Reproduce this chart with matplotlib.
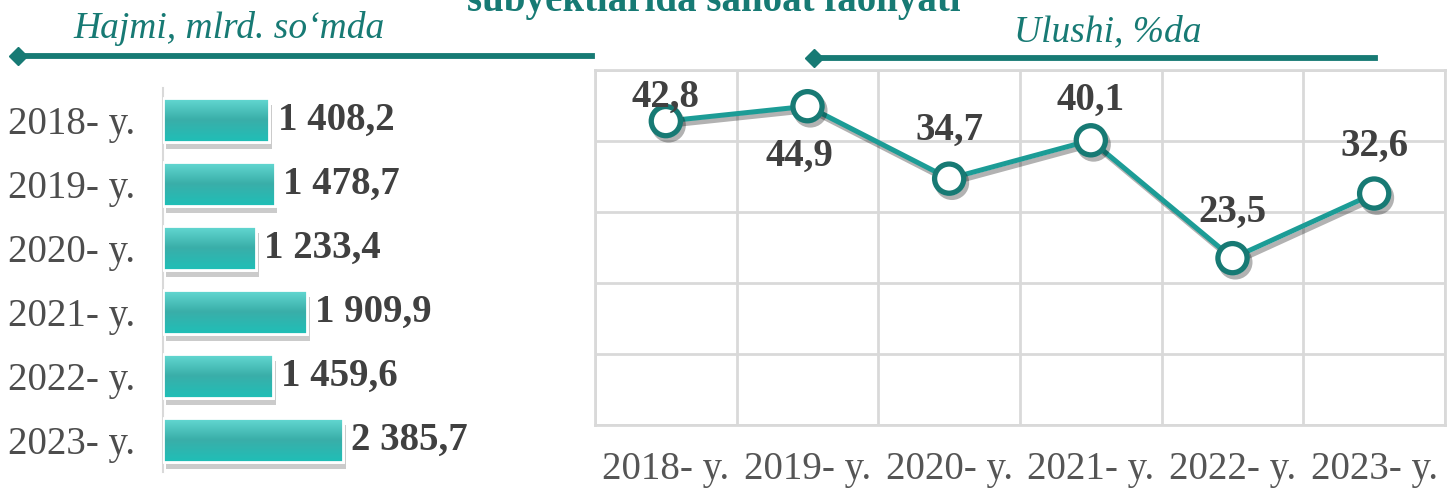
import numpy as np
import matplotlib
matplotlib.use("Agg")
import matplotlib.pyplot as plt
import matplotlib.patheffects as pe
from matplotlib.colors import LinearSegmentedColormap

# data
years = ["2018- y.", "2019- y.", "2020- y.", "2021- y.", "2022- y.", "2023- y."]
volume = [1408.2, 1478.7, 1233.4, 1909.9, 1459.6, 2385.7]
volume_labels = ["1 408,2", "1 478,7", "1 233,4", "1 909,9", "1 459,6", "2 385,7"]
share = [42.8, 44.9, 34.7, 40.1, 23.5, 32.6]
share_labels = ["42,8", "44,9", "34,7", "40,1", "23,5", "32,6"]
# label offsets (points) for the line labels
share_offsets = [(0, 17), (-6, -36), (0, 35), (0, 29), (0, 33), (0, 34)]

TEAL_DARK = "#177a74"
LINE_COLOR = "#1c9c96"
TEXT_DARK = "#404040"
GRID = "#d9d9d9"
SERIF = "Liberation Serif"

plt.rcParams["font.family"] = SERIF

fig = plt.figure(figsize=(14.51, 4.9), dpi=100)

# ---- bar chart (left) ----
axb = fig.add_axes([163 / 1451, 1 - 472 / 490, 300 / 1451, 384 / 490])
ypos = np.arange(len(years))
bars = axb.barh(ypos, volume, height=0.69, color="#33b8b2", edgecolor="white",
                linewidth=2, zorder=2)
# top light cyan -> darker middle -> bright teal bottom
grad = LinearSegmentedColormap.from_list("g", ["#66dbd5", "#3aaea9", "#1fbfb7"])
gimg = np.linspace(0, 1, 100).reshape(-1, 1)
for b in bars:
    b.set_path_effects([pe.SimplePatchShadow(offset=(2, -5), alpha=0.3, shadow_rgbFace="#555555"),
                        pe.Normal()])
    x0, y0 = b.get_x(), b.get_y()
    w, h = b.get_width(), b.get_height()
    # y axis is inverted: y0 is the top edge of the bar
    im = axb.imshow(gimg, cmap=grad, aspect="auto", origin="upper",
                    extent=[x0, x0 + w, y0 + h, y0], zorder=3)
    im.set_clip_path(b)
    axb.add_patch(plt.Rectangle((x0, y0), w, h, fill=False, edgecolor="white",
                                linewidth=2, zorder=4))

for i, (v, lab) in enumerate(zip(volume, volume_labels)):
    axb.text(v + 110, i, lab, va="center", ha="left", fontsize=28, fontweight="bold",
             color=TEXT_DARK)

axb.set_xlim(0, 3975)
axb.set_ylim(len(years) - 0.5, -0.5)
axb.set_yticks(ypos)
axb.set_yticklabels(years, fontsize=28, color="#4d4d4d")
axb.tick_params(axis="y", length=0)
axb.set_xticks([])
for s in ["top", "right", "bottom"]:
    axb.spines[s].set_visible(False)
axb.spines["left"].set_color(GRID)
axb.spines["left"].set_linewidth(1.5)
for t in axb.get_yticklabels():
    t.set_ha("left")
axb.yaxis.set_tick_params(pad=155 * 0.72)

# ---- line chart (right) ----
axl = fig.add_axes([595 / 1451, 1 - 425 / 490, 850 / 1451, 355 / 490])
xpos = np.arange(len(years))
axl.plot(xpos, share, color=LINE_COLOR, lw=3.6, marker="o", markersize=21,
         markerfacecolor="white", markeredgecolor=TEAL_DARK, markeredgewidth=3.8,
         zorder=3,
         path_effects=[pe.SimpleLineShadow(offset=(2, -3), alpha=0.3), pe.Normal()])
for x, y, lab, off in zip(xpos, share, share_labels, share_offsets):
    axl.annotate(lab, (x, y), xytext=off, textcoords="offset points",
                 ha="center", va="center", fontsize=28, fontweight="bold",
                 color=TEXT_DARK, zorder=5)

axl.set_xlim(-0.5, len(years) - 0.5)
axl.set_ylim(0, 50)
axl.set_yticks(np.arange(0, 51, 10))
axl.set_yticklabels([])
axl.set_xticks(np.arange(-0.5, len(years), 1), minor=False)
axl.set_xticklabels([])
axl.set_xticks(xpos, minor=True)
axl.set_xticklabels(years, minor=True, fontsize=28, color="#555555")
axl.tick_params(axis="both", which="both", length=0)
axl.tick_params(axis="x", which="minor", pad=19)
axl.grid(True, which="major", color=GRID, lw=2)
for s in axl.spines.values():
    s.set_color(GRID)
    s.set_linewidth(2)
axl.set_axisbelow(True)

# ---- headers ----
fig.text(714 / 1451, 1 - 11 / 490, "subyektlarida sanoat faoliyati", ha="center",
         va="baseline", fontsize=28, fontweight="bold", color=TEAL_DARK)
fig.text(229 / 1451, 1 - 29 / 490, "Hajmi, mlrd. so\u2018mda", ha="center", va="center",
         fontsize=27, style="italic", color=TEAL_DARK)
fig.text(1108 / 1451, 1 - 32 / 490, "Ulushi, %da", ha="center", va="center",
         fontsize=27, style="italic", color=TEAL_DARK)

for (x0, x1, yy) in [(24, 592, 56), (820, 1375, 58)]:
    fig.add_artist(plt.Line2D([x0 / 1451, x1 / 1451], [1 - yy / 490] * 2,
                              color=TEAL_DARK, lw=4.2, transform=fig.transFigure))
    fig.add_artist(plt.Line2D([(x0 - 6) / 1451], [1 - yy / 490], marker="D",
                              markersize=9, color=TEAL_DARK, transform=fig.transFigure))

fig.savefig("out.png", dpi=100)
